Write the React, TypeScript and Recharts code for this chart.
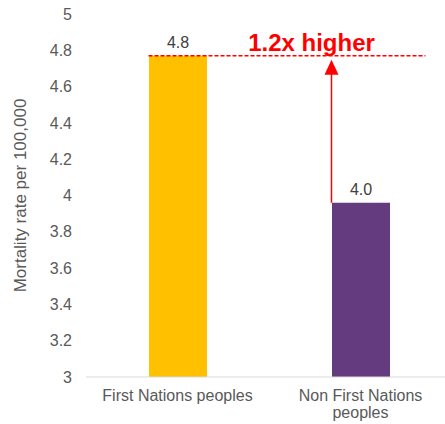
import React from 'react'
import { BarChart, Bar, XAxis, YAxis, LabelList, ReferenceLine, Text } from 'recharts'

const categories = ['First Nations peoples', 'Non First Nations peoples']
const rates = [4.77, 3.96]
const yTicks = [3, 3.2, 3.4, 3.6, 3.8, 4, 4.2, 4.4, 4.6, 4.8, 5]
const barColors = ['#FFC000', '#643B7E']
const compareText = '1.2x higher'

const data = categories.map((name, i) => ({ name, rate: rates[i], fill: barColors[i] }))

const RED = '#FF0000'
const BAR = 58

const CatTick = (props: any) => {
  const { x, y, payload } = props
  return (
    <Text
      x={x}
      y={y + 5}
      width={160}
      textAnchor="middle"
      verticalAnchor="start"
      style={{ fontSize: 16, fontFamily: '"Liberation Sans", Arial, sans-serif' }}
      fill="#595959"
      lineHeight={17}
    >
      {payload.value}
    </Text>
  )
}

const DashShape = (props: any) => {
  const { x1, x2, y1 } = props
  return <line x1={x1 - BAR / 2} x2={x2 + 65} y1={y1} y2={y1} stroke={RED} strokeWidth={1.3} strokeDasharray="4 2" />
}

const ArrowShape = (props: any) => {
  const { x1, y1, y2 } = props
  const ax = x1 - BAR / 2
  const tip = y2 + 4
  return (
    <g>
      <line x1={ax} x2={ax} y1={y1} y2={tip + 14} stroke={RED} strokeWidth={1.5} />
      <polygon points={`${ax - 7},${tip + 15} ${ax + 7},${tip + 15} ${ax},${tip}`} fill={RED} />
      <text x={ax - 20} y={y2 - 5} textAnchor="middle" fill={RED} fontSize={24} fontWeight="bold">
        {compareText}
      </text>
    </g>
  )
}

export default function App() {
  return (
    <div style={{ position: 'absolute', left: 0, top: 0, fontFamily: '"Liberation Sans", Arial, sans-serif' }}>
      <BarChart width={460} height={424} data={data} margin={{ top: 14, right: 8, left: 0, bottom: 0 }}>
        <XAxis
          dataKey="name"
          axisLine={{ stroke: '#D9D9D9' }}
          tickLine={false}
          height={47}
          tick={<CatTick />}
          interval={0}
        />
        <YAxis
          domain={[3, 5]}
          ticks={yTicks}
          width={86}
          axisLine={false}
          tickLine={false}
          tickMargin={8}
          tick={{ fontSize: 16, fill: '#595959' }}
          label={{ value: 'Mortality rate per 100,000', angle: -90, position: 'insideLeft', offset: 20, style: { textAnchor: 'middle', fontSize: 17, fill: '#595959' } }}
        />
        <Bar dataKey="rate" barSize={BAR} isAnimationActive={false}>
          <LabelList dataKey="rate" position="top" offset={8} fontSize={16} fill="#404040" formatter={(v: any) => Number(v).toFixed(1)} />
        </Bar>
        <ReferenceLine
          segment={[{ x: categories[0], y: rates[0] }, { x: categories[1], y: rates[0] }]}
          shape={<DashShape />}
        />
        <ReferenceLine
          segment={[{ x: categories[1], y: rates[1] }, { x: categories[1], y: rates[0] }]}
          shape={<ArrowShape />}
        />
      </BarChart>
    </div>
  )
}
